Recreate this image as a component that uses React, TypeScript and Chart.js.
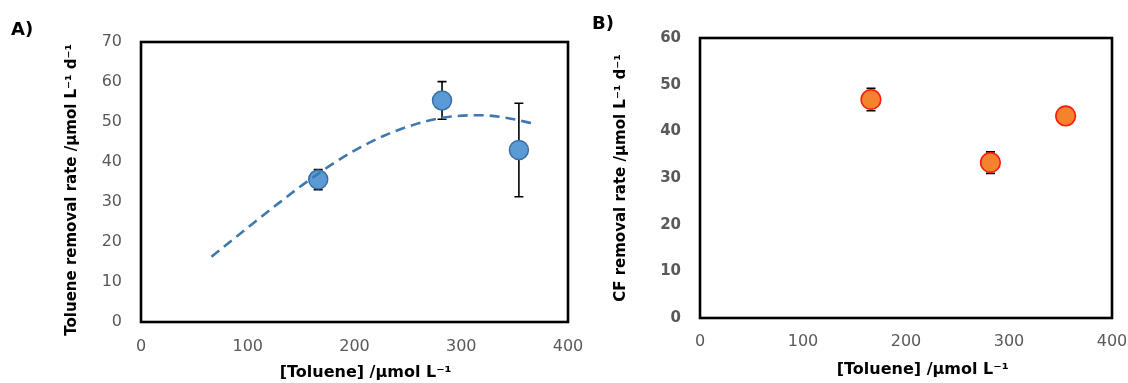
import React, { useEffect, useRef } from "react";
import { Chart, registerables } from "chart.js";

Chart.register(...registerables);

// Panel A: toluene removal rate
const tolueneA = [166, 282, 354];
const rateA = [35.6, 55.4, 43.0];
const errA = [2.5, 4.7, 11.7];
// Panel A: dashed trend curve
const fitX = [66, 99, 127, 152, 176, 199, 227, 252, 279, 296, 318, 343, 366];
const fitY = [16.3, 23.4, 29.3, 34.4, 38.9, 42.7, 46.5, 49.0, 50.9, 51.5, 51.7, 51.0, 49.7];
// Panel B: CF removal rate
const tolueneB = [166, 282, 355];
const rateB = [46.8, 33.3, 43.3];
const errB = [2.4, 2.3, 0.8];
// axes
const xRange = [0, 400];
const yRangeA = [0, 70];
const yRangeB = [0, 60];
const tickStepX = 100;
const tickStepY = 10;

const xTitle = "[Toluene] /µmol L⁻¹";
const yTitleA = "Toluene removal rate /µmol L⁻¹ d⁻¹";
const yTitleB = "CF removal rate /µmol L⁻¹ d⁻¹";

const framePlugin = {
  id: "frame",
  afterDatasetsDraw(chart: any) {
    const { ctx, chartArea: a } = chart;
    ctx.save();
    ctx.strokeStyle = "#000";
    ctx.lineWidth = 2.6;
    ctx.strokeRect(a.left, a.top, a.right - a.left, a.bottom - a.top);
    ctx.restore();
  },
};

const makeErrPlugin = (xs: number[], ys: number[], es: number[]) => ({
  id: "errbars",
  beforeDatasetsDraw(chart: any) {
    const { ctx } = chart;
    const xs_ = chart.scales.x;
    const ys_ = chart.scales.y;
    ctx.save();
    ctx.strokeStyle = "#000";
    ctx.lineWidth = 1.6;
    xs.forEach((xv, i) => {
      const px = xs_.getPixelForValue(xv);
      const top = ys_.getPixelForValue(ys[i] + es[i]);
      const bot = ys_.getPixelForValue(ys[i] - es[i]);
      ctx.beginPath();
      ctx.moveTo(px, top);
      ctx.lineTo(px, bot);
      ctx.moveTo(px - 4.5, top);
      ctx.lineTo(px + 4.5, top);
      ctx.moveTo(px - 4.5, bot);
      ctx.lineTo(px + 4.5, bot);
      ctx.stroke();
    });
    ctx.restore();
  },
});

function buildOptions(cfg: any) {
  return {
    responsive: false,
    animation: false,
    devicePixelRatio: 1,
    layout: { padding: cfg.padding },
    plugins: { legend: { display: false }, tooltip: { enabled: false } },
    scales: {
      x: {
        type: "linear",
        min: xRange[0],
        max: xRange[1],
        grid: { display: false, drawTicks: false },
        border: { display: false },
        ticks: {
          stepSize: tickStepX,
          padding: cfg.xTickPad,
          color: "#595959",
          font: { family: "DejaVu Sans", size: 16 },
          maxRotation: 0,
        },
        title: {
          display: true,
          text: cfg.xTitle,
          color: "#000",
          font: { family: "DejaVu Sans", size: 16, weight: "bold" },
          padding: { top: 0, bottom: cfg.xTitlePad },
        },
        afterFit(scale: any) {
          scale.height = cfg.xHeight;
          scale.paddingLeft = 0;
          scale.paddingRight = 0;
        },
      },
      y: {
        type: "linear",
        min: cfg.yRange[0],
        max: cfg.yRange[1],
        grid: { display: false, drawTicks: false },
        border: { display: false },
        ticks: {
          stepSize: tickStepY,
          padding: cfg.yTickPad,
          color: "#595959",
          font: { family: "DejaVu Sans", size: cfg.yTickSize, weight: cfg.yTickWeight },
        },
        title: {
          display: true,
          text: cfg.yTitle,
          color: "#000",
          font: { family: "DejaVu Sans", size: 15, weight: "bold" },
          padding: { top: cfg.yTitlePad, bottom: 0 },
        },
        afterFit(scale: any) {
          scale.width = cfg.yWidth;
          scale.paddingTop = 0;
          scale.paddingBottom = 0;
        },
      },
    },
  };
}

function PanelA() {
  const ref = useRef<HTMLCanvasElement>(null);
  useEffect(() => {
    const chart = new Chart(ref.current as HTMLCanvasElement, {
      type: "scatter",
      data: {
        datasets: [
          {
            type: "line",
            data: fitX.map((x, i) => ({ x, y: fitY[i] })),
            borderColor: "#3F78AE",
            borderWidth: 2.6,
            borderDash: [10, 6],
            pointRadius: 0,
            cubicInterpolationMode: "monotone",
            fill: false,
            order: 0,
          } as any,
          {
            data: tolueneA.map((x, i) => ({ x, y: rateA[i] })),
            backgroundColor: "#5B9BD5",
            borderColor: "#3A6EA5",
            borderWidth: 1.5,
            pointRadius: 9.5,
            showLine: false,
            order: 1,
          },
        ],
      },
      options: buildOptions({
        padding: { left: 0, top: 42, right: 32, bottom: 0 },
        xTitle: "    " + xTitle,
        yTitle: yTitleA + "   ",
        yRange: yRangeA,
        xHeight: 61,
        yWidth: 141,
        xTickPad: 15,
        xTitlePad: 1,
        yTickPad: 19,
        yTitlePad: 63,
        yTickSize: 16,
        yTickWeight: "normal",
      }) as any,
      plugins: [framePlugin, makeErrPlugin(tolueneA, rateA, errA)],
    });
    return () => chart.destroy();
  }, []);
  return <canvas ref={ref} width={600} height={383} style={{ position: "absolute", left: 0, top: 0 }} />;
}

function PanelB() {
  const ref = useRef<HTMLCanvasElement>(null);
  useEffect(() => {
    const chart = new Chart(ref.current as HTMLCanvasElement, {
      type: "scatter",
      data: {
        datasets: [
          {
            data: tolueneB.map((x, i) => ({ x, y: rateB[i] })),
            backgroundColor: "#F5822C",
            borderColor: "#FF1A0A",
            borderWidth: 1.6,
            pointRadius: 9.8,
            showLine: false,
          },
        ],
      },
      options: buildOptions({
        padding: { left: 0, top: 38, right: 16, bottom: 0 },
        xTitle: "      " + xTitle,
        yTitle: yTitleB,
        yRange: yRangeB,
        xHeight: 65,
        yWidth: 120,
        xTickPad: 14,
        xTitlePad: 4,
        yTickPad: 19,
        yTitlePad: 32,
        yTickSize: 15,
        yTickWeight: "bold",
      }) as any,
      plugins: [framePlugin, makeErrPlugin(tolueneB, rateB, errB)],
    });
    return () => chart.destroy();
  }, []);
  return <canvas ref={ref} width={548} height={383} style={{ position: "absolute", left: 580, top: 0 }} />;
}

const panelLabel: React.CSSProperties = {
  position: "absolute",
  fontFamily: "DejaVu Sans",
  fontWeight: "bold",
  fontSize: 18,
  lineHeight: "18px",
  color: "#000",
};

export default function App() {
  return (
    <div style={{ position: "absolute", left: 0, top: 0, width: 1128, height: 383, background: "#fff" }}>
      <PanelA />
      <PanelB />
      <div style={{ ...panelLabel, left: 11, top: 20 }}>A)</div>
      <div style={{ ...panelLabel, left: 592, top: 14 }}>B)</div>
    </div>
  );
}
